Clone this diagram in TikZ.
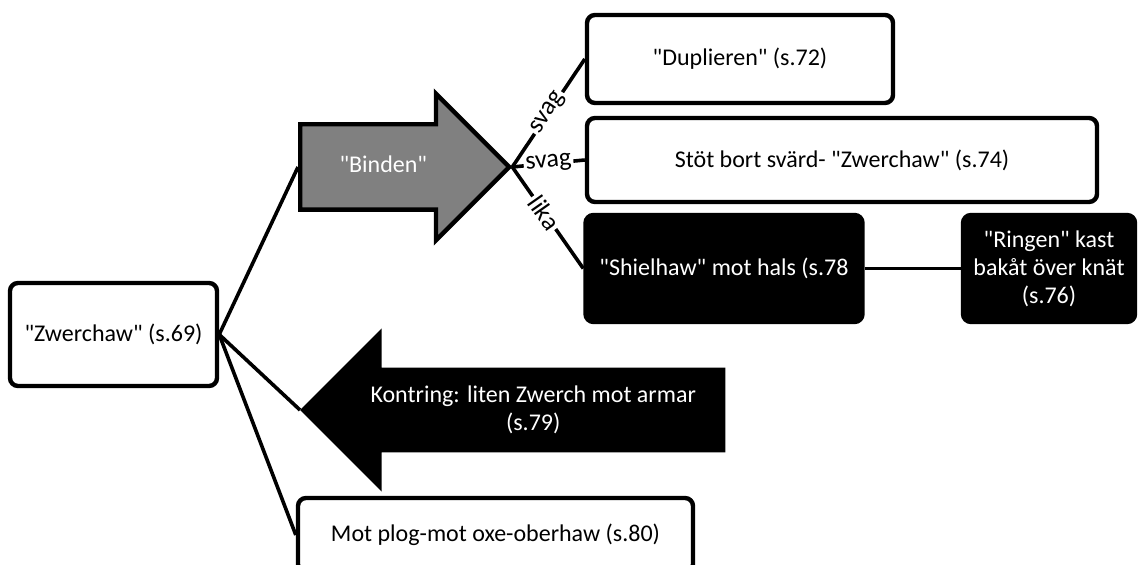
\documentclass[tikz,border=0pt]{standalone}
\usepackage{fontspec}
\setmainfont{Carlito}[Ligatures=TeXOff]
\usetikzlibrary{shapes.arrows}
\tikzset{
	txt/.style={font=\fontsize{12}{14}\selectfont},
	box/.style={txt, draw, line width=2.2pt, rounded corners=4pt, align=center},
	darkbox/.style={box, fill=black, text=white},
	bigarrow/.style={txt, single arrow, draw, line width=2.2pt, align=center, inner xsep=0pt},
	link/.style={line width=1.8pt},
	lbl/.style={sloped, fill=white, inner sep=1pt, font=\fontsize{13}{15}\selectfont}
}
\begin{document}
\begin{tikzpicture}[x=0.5pt, y=-0.5pt]
	\useasboundingbox (0,0) rectangle (1145,565);

	\node[box, minimum width=103.5pt, minimum height=51.5pt] (zw) at (113.5,334.5) {"Zwerchaw" (s.69)};
	\node[bigarrow, fill=gray, text=white, anchor=tail, minimum height=104.5pt, inner ysep=14.25pt, single arrow head extend=15.25pt, text height=9pt, text depth=3pt] (bind) at (298,167) {"Binden"};
	\node[bigarrow, fill=black, text=white, shape border rotate=180, anchor=tip, minimum height=210pt, inner ysep=7pt, single arrow head extend=18pt] (kont) at (300,410) {Kontring: liten Zwerch mot armar\\(s.79)};
	\node[box, minimum width=197.5pt, minimum height=37pt] (mot) at (495.5,535) {Mot plog-mot oxe-oberhaw (s.80)};

	\node[box, minimum width=153pt, minimum height=44pt] (dup) at (740,59) {"Duplieren" (s.72)};
	\node[box, minimum width=255pt, minimum height=42pt] (stot) at (842,160) {Stöt bort svärd- "Zwerchaw" (s.74)};
	\node[darkbox, minimum width=138.5pt, minimum height=53.5pt] (shiel) at (724,268.5) {"Shielhaw" mot hals (s.78};
	\node[darkbox, minimum width=86pt, minimum height=53.5pt] (ring) at (1049,268.5) {"Ringen" kast\\bakåt över knät\\(s.76)};

	\draw[link] (zw.east) -- (bind.tail);
	\draw[link] (zw.east) -- (kont.tip);
	\draw[link] (zw.east) -- (mot.west);

	\draw[link] (bind.tip) -- node[lbl] {svag} (dup.west);
	\draw[link] (bind.tip) -- node[lbl] {svag} (stot.west);
	\draw[link] (bind.tip) -- node[lbl, pos=0.45] {lika} (shiel.west);
	\draw[link] (shiel.east) -- (ring.west);
\end{tikzpicture}
\end{document}
